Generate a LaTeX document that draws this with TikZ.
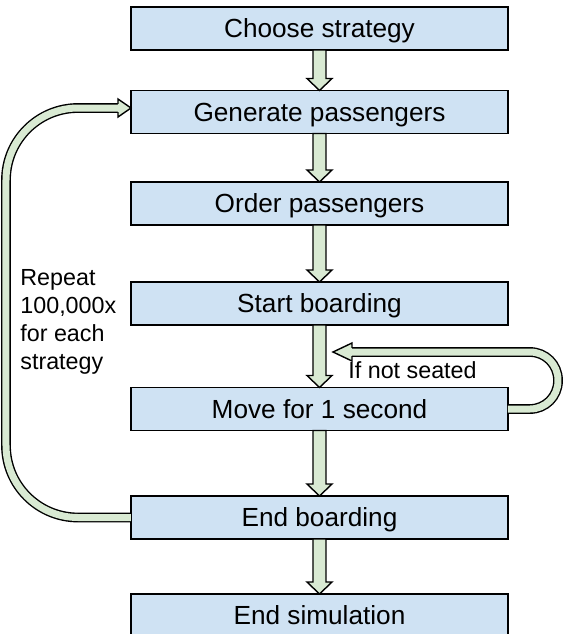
\documentclass[tikz,border=0pt]{standalone}
\usepackage{fontspec}
\setmainfont{Liberation Sans}
\usetikzlibrary{calc}

\definecolor{boxblue}{RGB}{207,226,243}
\definecolor{arrowgreen}{RGB}{217,234,211}

% block arrow straight down from box #1 to box #2
\newcommand{\flowdown}[2]{%
  \draw[blockarrow] ($(#1.south)+(-6.5,0)$) -- ($(#2.north)+(-6.5,-12)$) -- ++(-6,0)
    -- (#2.north) -- ++(12.5,-12) -- ++(-6,0) -- ($(#1.south)+(6.5,0)$) -- cycle;}
% head at the end of a loop band: tip #1, signed length #2
\newcommand{\loophead}[2]{%
  \filldraw[fill=arrowgreen, line width=0.7pt, line join=miter]
    ($(#1)+(#2,-4.2)$) -- ($(#1)+(#2,-9)$) -- (#1) -- ($(#1)+(#2,9)$) -- ($(#1)+(#2,4.2)$);}

\begin{document}
\begin{tikzpicture}[x=0.5pt, y=-0.5pt,
  flowbox/.style={draw, fill=boxblue, line width=0.75pt, minimum width=188.5pt,
    minimum height=21.5pt, inner sep=0pt, outer sep=0pt,
    font=\fontsize{13.1}{15}\selectfont, text height=9.4pt, text depth=0pt},
  blockarrow/.style={draw, fill=arrowgreen, line width=0.7pt, line join=miter},
  loopband/.style={line width=0.7pt, double=arrowgreen, double distance=3.5pt},
  sidelabel/.style={inner sep=0pt, font=\fontsize{11.65}{14}\selectfont}]
  \useasboundingbox (0,0) rectangle (564,634);

  % Cajas
  \node[flowbox] (choose) at (319.5,28.5) {Choose strategy};
  \node[flowbox] (generate) at (319.5,112) {Generate passengers};
  \node[flowbox] (order) at (319.5,203.5) {Order passengers};
  \node[flowbox] (start) at (319.5,303.5) {Start boarding};
  \node[flowbox] (move) at (319.5,409) {Move for 1 second};
  \node[flowbox] (endb) at (319.5,517.5) {End boarding};
  \node[flowbox] (endsim) at (319.5,615.5) {End simulation};

  % Textos
  \node[sidelabel, anchor=north west, align=left] (repeat) at (20,269) {Repeat\\100,000x\\for each\\strategy};
  \node[sidelabel, anchor=base west] (seated) at (348,378) {If not seated};

  % Flechas
  \flowdown{choose}{generate}
  \flowdown{generate}{order}
  \flowdown{order}{start}
  \flowdown{start}{move}
  \flowdown{move}{endb}
  \flowdown{endb}{endsim}

  % Bucles
  \coordinate (gentip) at ($(generate.west)+(0,-4)$);
  \draw[loopband, rounded corners=36pt] (endb.west) -- ++(-125,0) |- ($(gentip)+(-13,0)$);
  \loophead{gentip}{-13}

  \coordinate (seattip) at (333,352);
  \draw[loopband, rounded corners=14pt] (move.east) -- ++(50,0) -- ++(0,-57) -- ($(seattip)+(19,0)$);
  \loophead{seattip}{19}
\end{tikzpicture}
\end{document}
